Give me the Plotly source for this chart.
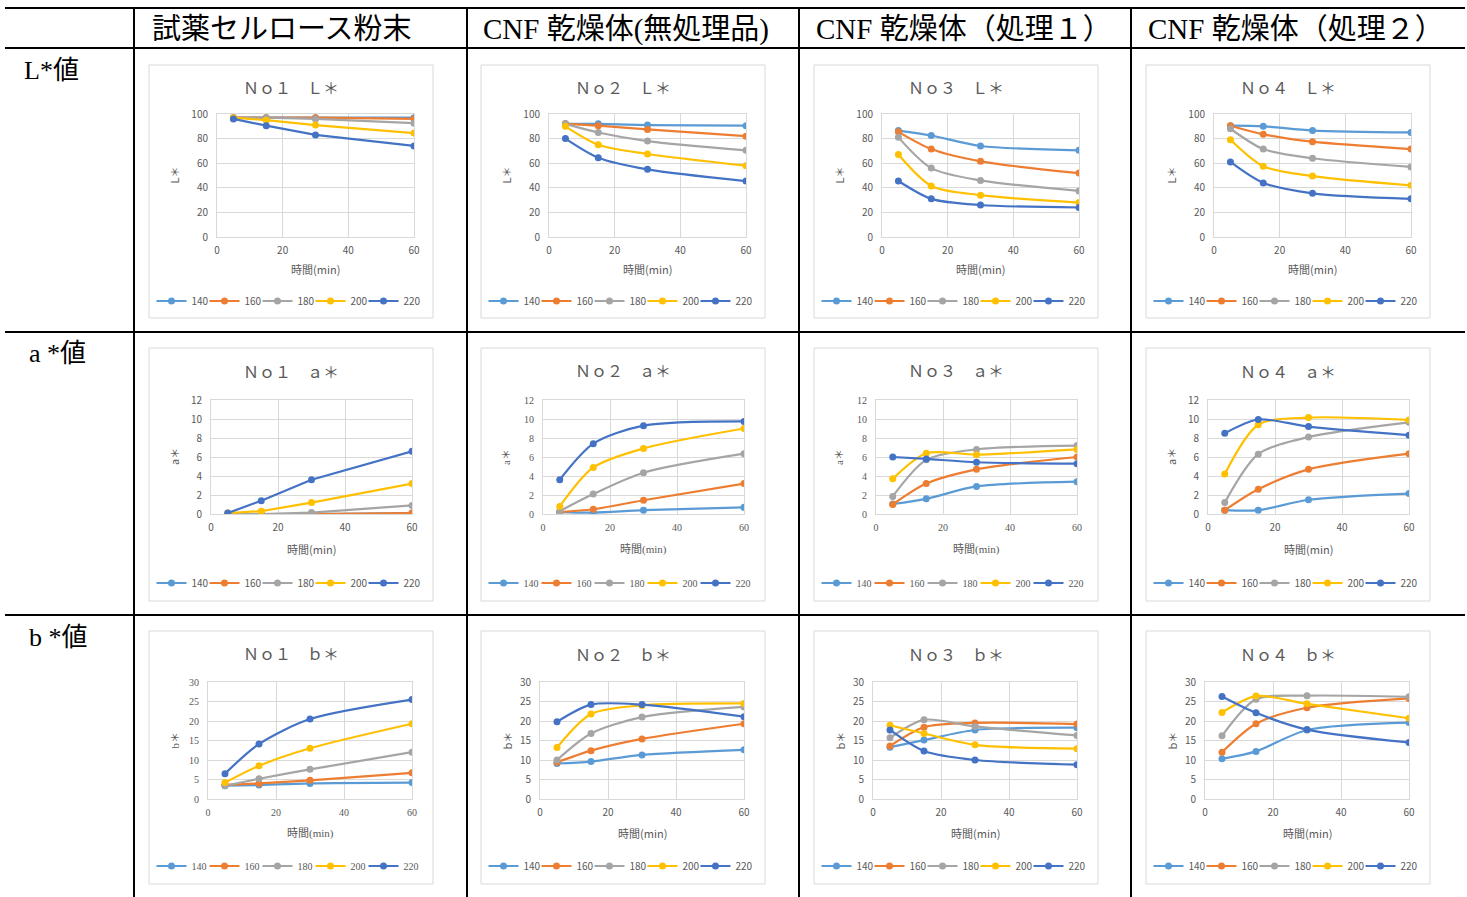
import plotly.graph_objects as go

W, H = 1467, 897

# ---------------- data ----------------
times = [5, 15, 30, 60]
temps = ["140", "160", "180", "200", "220"]
colors = ["#5B9BD5", "#ED7D31", "#A5A5A5", "#FFC000", "#4472C4"]

col_headers = ["試薬セルロース粉末", "CNF 乾燥体(無処理品)", "CNF 乾燥体（処理１）", "CNF 乾燥体（処理２）"]
row_labels = ["L*値", "a *値", "b *値"]
chart_nums = ["Ｎｏ１", "Ｎｏ２", "Ｎｏ３", "Ｎｏ４"]
chart_props = ["Ｌ＊", "ａ＊", "ｂ＊"]
y_titles = ["L＊", "a＊", "b＊"]
x_title = "時間(min)"
x_ticks = [0, 20, 40, 60]
y_ranges = [[0, 100], [0, 12], [0, 30]]
y_dticks = [20, 2, 5]

# rows: 140, 160, 180, 200, 220 ; columns: 5, 15, 30, 60 min
L_no1 = [[97, 97, 97, 97], [97, 97, 97, 96], [97, 97, 96, 92.5], [97, 95, 91, 84.5], [96, 90.5, 83, 74]]
L_no2 = [[92, 92, 91, 90.5], [92, 90.5, 87.5, 82], [92, 85, 78, 70.5], [90, 75, 67.5, 58], [80, 64.5, 55, 45.5]]
L_no3 = [[86.5, 82.5, 74, 70.5], [85.5, 71.5, 61.5, 52], [81, 56, 46, 37.5], [67, 41.5, 34, 28], [45.5, 31, 26, 24]]
L_no4 = [[90.5, 90, 86.5, 85], [90.5, 83.5, 77.5, 71.5], [88, 71.5, 64, 57], [79, 57.5, 49.5, 42], [61, 44, 35.5, 31]]

a_no1 = [[0, 0, 0, 0.1], [0, 0, 0, 0.1], [0, 0, 0.15, 0.9], [0.1, 0.3, 1.2, 3.2], [0.1, 1.4, 3.6, 6.6]]
a_no2 = [[0.2, 0.15, 0.4, 0.7], [0.2, 0.5, 1.45, 3.2], [0.3, 2.1, 4.35, 6.35], [0.8, 4.9, 6.9, 9.0], [3.6, 7.4, 9.3, 9.75]]
a_no3 = [[1.05, 1.6, 2.9, 3.4], [1.0, 3.2, 4.7, 6.0], [1.85, 5.7, 6.8, 7.2], [3.7, 6.4, 6.25, 6.8], [6.0, 5.8, 5.45, 5.3]]
a_no4 = [[0.4, 0.4, 1.5, 2.15], [0.4, 2.6, 4.7, 6.35], [1.2, 6.3, 8.1, 9.65], [4.2, 9.4, 10.15, 9.9], [8.5, 9.95, 9.2, 8.3]]

b_no1 = [[3.4, 3.6, 4.0, 4.2], [3.6, 4.0, 4.8, 6.7], [3.4, 5.2, 7.6, 12.0], [4.2, 8.5, 13.0, 19.3], [6.5, 14.1, 20.5, 25.5]]
b_no2 = [[9.1, 9.6, 11.3, 12.6], [9.4, 12.4, 15.4, 19.3], [10.0, 16.8, 21.0, 23.6], [13.2, 21.8, 24.0, 24.5], [19.8, 24.2, 24.2, 21.1]]
b_no3 = [[13.3, 15.1, 17.7, 18.3], [13.6, 18.4, 19.5, 19.2], [15.7, 20.3, 18.6, 16.3], [18.9, 16.8, 13.9, 12.9], [17.7, 12.3, 10.0, 8.8]]
b_no4 = [[10.3, 12.2, 17.7, 19.6], [12.0, 19.3, 23.4, 25.8], [16.2, 25.6, 26.5, 26.2], [22.2, 26.4, 24.4, 20.7], [26.3, 22.1, 17.8, 14.5]]

data_grid = [
    [L_no1, L_no2, L_no3, L_no4],
    [a_no1, a_no2, a_no3, a_no4],
    [b_no1, b_no2, b_no3, b_no4],
]

# ---------------- layout geometry (pixels) ----------------
SANS = "Noto Sans CJK JP, Noto Sans, sans-serif"
SERIF = "Liberation Serif, DejaVu Serif, Noto Sans CJK JP, serif"
serif_charts = {(1, 1), (1, 2), (2, 0)}
linear_charts = {(0, 0), (1, 0)}

box_left = [149, 481, 814, 1146]
box_w = 284
box_top = [65, 348, 631]
box_h = 253
plot_top = [114, 400, 682]
plot_bot = [237, 514, 799]
plot_loff = [68, 62, 59]
plot_roff = [265, 263, 263]
title_y = [87, 371, 654]
xtitle_y = [269, 549, 833]
legend_y = [301, 583, 866]

GRAY = "#595959"


def px(x):
    return x / W


def py(y):
    return 1 - y / H


fig = go.Figure()
annotations = []
shapes = []
layout = {}

idx = 0
for r in range(3):
    for c in range(4):
        idx += 1
        sfx = "" if idx == 1 else str(idx)
        fam = SERIF if (r, c) in serif_charts else SANS
        shape = "linear" if (r, c) in linear_charts else "spline"
        L = box_left[c] + plot_loff[r]
        R = box_left[c] + plot_roff[r]
        T, B = plot_top[r], plot_bot[r]
        legname = "legend" + sfx
        for k, t in enumerate(temps):
            fig.add_trace(go.Scatter(
                x=times, y=data_grid[r][c][k], name=t,
                mode="lines+markers",
                line=dict(color=colors[k], width=2.2, shape=shape, smoothing=0.8),
                marker=dict(color=colors[k], size=7),
                xaxis="x" + sfx, yaxis="y" + sfx, legend=legname,
                legendwidth=(22 if k == len(temps) - 1 else None),
                hoverinfo="skip",
            ))
        layout["xaxis" + sfx] = dict(
            domain=[px(L), px(R)], anchor="y" + sfx, range=[0, 60],
            tickvals=x_ticks, showgrid=True, gridcolor="#D9D9D9", gridwidth=1,
            zeroline=False, showline=True, linecolor="#D9D9D9", mirror=True,
            ticks="", ticklabelstandoff=4, automargin=False,
            tickfont=dict(size=10, color=GRAY, family=fam), fixedrange=True,
        )
        layout["yaxis" + sfx] = dict(
            domain=[py(B), py(T)], anchor="x" + sfx, range=y_ranges[r],
            dtick=y_dticks[r], showgrid=True, gridcolor="#D9D9D9", gridwidth=1,
            zeroline=False, showline=True, linecolor="#D9D9D9", mirror=True,
            ticks="", ticklabelstandoff=6, automargin=False,
            tickfont=dict(size=10, color=GRAY, family=fam), fixedrange=True,
        )
        cx = box_left[c] + box_w / 2
        layout[legname] = dict(
            orientation="h", x=px(cx), y=py(legend_y[r]), xanchor="center", yanchor="middle",
            font=dict(size=10, color=GRAY, family=fam), bgcolor="rgba(0,0,0,0)",
            itemwidth=30, entrywidth=8, entrywidthmode="pixels", traceorder="normal",
        )
        # chart border
        shapes.append(dict(type="rect", xref="paper", yref="paper",
                           x0=px(box_left[c]), x1=px(box_left[c] + box_w),
                           y0=py(box_top[r] + box_h), y1=py(box_top[r]),
                           line=dict(color="#D9D9D9", width=1), layer="below"))
        # chart title
        annotations.append(dict(text=chart_nums[c] + "　" + chart_props[r], x=px(cx), y=py(title_y[r]),
                                xref="paper", yref="paper", showarrow=False, xanchor="center", yanchor="middle",
                                font=dict(size=16, color=GRAY, family=fam)))
        # x title
        annotations.append(dict(text=x_title, x=px((L + R) / 2), y=py(xtitle_y[r]),
                                xref="paper", yref="paper", showarrow=False, xanchor="center", yanchor="middle",
                                font=dict(size=11, color=GRAY, family=fam)))
        # y title
        annotations.append(dict(text=y_titles[r], x=px(box_left[c] + 25), y=py((T + B) / 2),
                                xref="paper", yref="paper", showarrow=False, xanchor="center", yanchor="middle",
                                textangle=-90, font=dict(size=11, color=GRAY, family=fam)))

# table text
header_x = [150, 481, 814, 1146]
for c, h in enumerate(col_headers):
    annotations.append(dict(text=h, x=px(header_x[c]), y=py(29), xref="paper", yref="paper",
                            showarrow=False, xanchor="left", yanchor="middle",
                            font=dict(size=29, color="black", family=SERIF)))
row_label_x = [22, 27, 27]
row_label_y = [70, 354, 637]
for r, t in enumerate(row_labels):
    annotations.append(dict(text=t, x=px(row_label_x[r]), y=py(row_label_y[r]), xref="paper", yref="paper",
                            showarrow=False, xanchor="left", yanchor="middle",
                            font=dict(size=26, color="black", family=SERIF)))

# table lines
for yy in [8, 48, 332, 615]:
    shapes.append(dict(type="line", xref="paper", yref="paper", x0=px(5), x1=px(1465),
                       y0=py(yy), y1=py(yy), line=dict(color="black", width=2)))
for xx in [134, 467, 799, 1131]:
    shapes.append(dict(type="line", xref="paper", yref="paper", x0=px(xx), x1=px(xx),
                       y0=py(8), y1=py(897), line=dict(color="black", width=2)))

fig.update_layout(
    width=W, height=H, margin=dict(l=0, r=0, t=0, b=0, pad=0, autoexpand=False),
    paper_bgcolor="white", plot_bgcolor="white",
    annotations=annotations, shapes=shapes, showlegend=True,
    **layout,
)

fig.write_html(
    "out.html",
    config={"displayModeBar": False},
    post_script=(
        "document.body.style.margin='0';document.body.style.padding='0';"
        "document.body.style.overflow='hidden';document.documentElement.style.overflow='hidden';"
    ),
)
